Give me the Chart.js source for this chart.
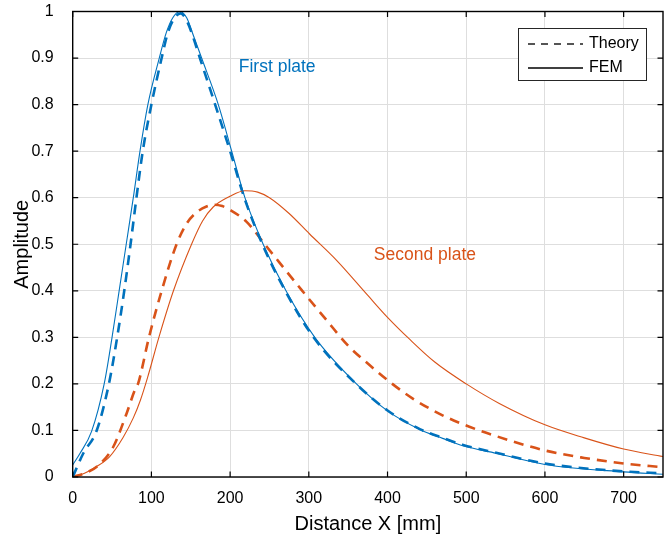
<!DOCTYPE html>
<html>
<head>
<meta charset="utf-8">
<script src="https://cdn.jsdelivr.net/npm/chart.js@4.4.0/dist/chart.umd.min.js"></script>
<style>
  html, body { margin: 0; padding: 0; background: #fff; }
  #wrap { width: 672px; height: 539px; }
</style>
</head>
<body>
<div id="wrap"><canvas id="myChart" width="672" height="539"></canvas></div>
<script>
// values (x in mm, y amplitude)
const theory1X = [0, 13.5, 30.5, 46, 56.5, 65.5, 73.5, 81, 89, 100, 113, 121, 129, 137, 145, 152, 161.6, 181, 200, 218, 241, 270, 306, 360, 400, 441, 470, 496, 538, 600, 700, 750];
const theory1Y = [0, 0.051, 0.1, 0.2, 0.3, 0.4, 0.5, 0.6, 0.7, 0.8, 0.9, 0.955, 0.985, 0.996, 0.98, 0.95, 0.9, 0.8, 0.7, 0.6, 0.5, 0.4, 0.3, 0.2, 0.143, 0.103, 0.084, 0.069, 0.052, 0.029, 0.012, 0.008];

const fem1X = [0, 9, 24, 40, 50, 59, 68, 77, 85.5, 95.5, 110, 119, 127, 136, 145, 153, 163.8, 185, 202, 218.8, 242, 271, 307.6, 360.5, 400, 441, 470, 496, 538, 600, 700, 750];
const fem1Y = [0.026, 0.05, 0.098, 0.2, 0.3, 0.4, 0.5, 0.6, 0.7, 0.8, 0.9, 0.955, 0.986, 1.0, 0.986, 0.95, 0.9, 0.8, 0.7, 0.6, 0.5, 0.4, 0.3, 0.2, 0.142, 0.102, 0.083, 0.067, 0.051, 0.027, 0.011, 0.006];

const theory2X = [0, 15, 30.5, 51.6, 68.6, 79, 83, 96.9, 113, 132, 145, 157, 170, 180, 190, 199.7, 221, 244, 290.7, 322.5, 350, 377.5, 403, 432.5, 470.5, 504, 534, 600, 650, 700, 750];
const theory2Y = [0, 0.008, 0.022, 0.065, 0.137, 0.187, 0.2, 0.3, 0.4, 0.5, 0.545, 0.568, 0.581, 0.585, 0.582, 0.574, 0.548, 0.5, 0.402, 0.337, 0.282, 0.24, 0.204, 0.168, 0.132, 0.108, 0.09, 0.057, 0.041, 0.029, 0.021];

const fem2X = [0, 15, 30, 47, 64, 77, 86, 95, 109.5, 128, 151, 165, 178.5, 199.7, 218.8, 235, 250, 275, 301, 335, 375, 400, 428, 460, 500, 542, 600, 650, 700, 750];
const fem2Y = [0, 0.008, 0.022, 0.044, 0.085, 0.127, 0.165, 0.213, 0.3, 0.4, 0.5, 0.55, 0.58, 0.603, 0.615, 0.612, 0.6, 0.566, 0.522, 0.466, 0.39, 0.343, 0.296, 0.247, 0.2, 0.158, 0.112, 0.084, 0.06, 0.044];

const xTicks = [0, 100, 200, 300, 400, 500, 600, 700];
const yTicks = [0, 0.1, 0.2, 0.3, 0.4, 0.5, 0.6, 0.7, 0.8, 0.9, 1];
const yTickLabels = ['0', '0.1', '0.2', '0.3', '0.4', '0.5', '0.6', '0.7', '0.8', '0.9', '1'];

const BLUE = '#0072BD';
const ORANGE = '#D95319';
const FONT = '"Liberation Sans", Arial, Helvetica, sans-serif';

function pts(xs, ys) {
  return xs.map((x, i) => ({ x: x, y: ys[i] }));
}

// box, inner ticks, legend and text labels
const matlabLook = {
  id: 'matlabLook',
  afterDatasetsDraw(chart) {
    const ctx = chart.ctx;
    const a = chart.chartArea;
    const xs = chart.scales.x;
    const ys = chart.scales.y;
    ctx.save();

    // text labels
    ctx.font = '17.5px ' + FONT;
    ctx.textBaseline = 'middle';
    ctx.textAlign = 'left';
    ctx.fillStyle = BLUE;
    ctx.fillText('First plate', xs.getPixelForValue(211), ys.getPixelForValue(0.881));
    ctx.fillStyle = ORANGE;
    ctx.fillText('Second plate', xs.getPixelForValue(382.6), ys.getPixelForValue(0.477));

    // frame
    ctx.strokeStyle = '#000';
    ctx.lineWidth = 1.4;
    ctx.strokeRect(a.left, a.top, a.right - a.left, a.bottom - a.top);

    // inner tick marks on all sides
    ctx.lineWidth = 1.2;
    ctx.beginPath();
    xTicks.forEach(v => {
      const px = xs.getPixelForValue(v);
      ctx.moveTo(px, a.bottom); ctx.lineTo(px, a.bottom - 5.5);
      ctx.moveTo(px, a.top); ctx.lineTo(px, a.top + 5.5);
    });
    yTicks.forEach(v => {
      const py = ys.getPixelForValue(v);
      ctx.moveTo(a.left, py); ctx.lineTo(a.left + 5.5, py);
      ctx.moveTo(a.right, py); ctx.lineTo(a.right - 5.5, py);
    });
    ctx.stroke();

    // legend
    const lx = 518, ly = 28, lw = 128, lh = 52;
    ctx.fillStyle = '#fff';
    ctx.fillRect(lx, ly, lw, lh);
    ctx.strokeStyle = '#262626';
    ctx.lineWidth = 1;
    ctx.strokeRect(lx + 0.5, ly + 0.5, lw, lh);

    ctx.strokeStyle = '#555';
    ctx.lineWidth = 1.8;
    ctx.setLineDash([7, 6]);
    ctx.beginPath();
    ctx.moveTo(528, 44); ctx.lineTo(583, 44);
    ctx.stroke();
    ctx.setLineDash([]);
    ctx.strokeStyle = '#000';
    ctx.lineWidth = 1.4;
    ctx.beginPath();
    ctx.moveTo(528, 68); ctx.lineTo(583, 68);
    ctx.stroke();

    ctx.fillStyle = '#000';
    ctx.font = '16px ' + FONT;
    ctx.textAlign = 'left';
    ctx.fillText('Theory', 589, 44);
    ctx.fillText('FEM', 589, 68);
    ctx.restore();
  }
};

const ctx = document.getElementById('myChart');

new Chart(ctx, {
  type: 'line',
  data: {
    datasets: [
      {
        label: 'Theory first plate',
        data: pts(theory1X, theory1Y),
        borderColor: BLUE,
        borderWidth: 2.6,
        borderDash: [10, 7],
        order: 1
      },
      {
        label: 'Theory second plate',
        data: pts(theory2X, theory2Y),
        borderColor: ORANGE,
        borderWidth: 2.6,
        borderDash: [10, 7],
        order: 1
      },
      {
        label: 'FEM first plate',
        data: pts(fem1X, fem1Y),
        borderColor: BLUE,
        borderWidth: 1.1,
        order: 0
      },
      {
        label: 'FEM second plate',
        data: pts(fem2X, fem2Y),
        borderColor: ORANGE,
        borderWidth: 1.1,
        order: 0
      }
    ]
  },
  options: {
    responsive: false,
    animation: false,
    cubicInterpolationMode: 'monotone',
    elements: { point: { radius: 0 } },
    layout: { autoPadding: false, padding: { top: 11.5, right: 9, left: 0, bottom: 0 } },
    plugins: {
      legend: { display: false },
      tooltip: { enabled: false }
    },
    scales: {
      x: {
        type: 'linear',
        min: 0,
        max: 750,
        afterBuildTicks: (s) => { s.ticks = xTicks.map(v => ({ value: v })); },
        afterFit: (s) => { s.height = 62; s.paddingLeft = 0; s.paddingRight = 0; },
        border: { display: false },
        grid: { color: '#dedede', lineWidth: 1, drawTicks: false },
        ticks: {
          color: '#000',
          font: { family: FONT, size: 16 },
          padding: 12,
          maxRotation: 0,
          callback: (v) => String(v)
        },
        title: {
          display: true,
          text: 'Distance X [mm]',
          color: '#000',
          font: { family: FONT, size: 20 },
          padding: { top: 0, bottom: 3 }
        }
      },
      y: {
        min: 0,
        max: 1,
        afterBuildTicks: (s) => { s.ticks = yTicks.map(v => ({ value: v })); },
        afterFit: (s) => { s.width = 72.7; s.paddingTop = 0; s.paddingBottom = 0; },
        border: { display: false },
        grid: { color: '#dedede', lineWidth: 1, drawTicks: false },
        ticks: {
          color: '#000',
          font: { family: FONT, size: 16 },
          padding: 19,
          callback: (v) => yTickLabels[yTicks.indexOf(v)] ?? ''
        },
        title: {
          display: true,
          text: 'Amplitude',
          color: '#000',
          font: { family: FONT, size: 20 },
          padding: { top: 10, bottom: 0 }
        }
      }
    }
  },
  plugins: [matlabLook]
});
</script>
</body>
</html>
